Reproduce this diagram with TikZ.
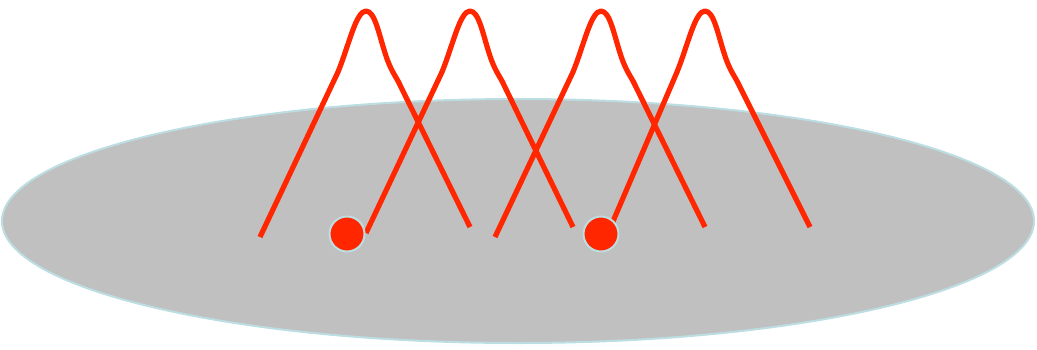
\documentclass[tikz,border=0pt]{standalone}
\usepackage{tikz}

\definecolor{wirered}{RGB}{255,38,0}
\definecolor{discgray}{RGB}{192,192,192}
\definecolor{rimblue}{RGB}{188,222,226}

\tikzset{
  wire/.style={wirered, line width=5.2pt, line cap=butt, line join=round},
  disc/.style={fill=discgray, draw=rimblue, line width=2pt},
  bead/.style={fill=wirered, draw=rimblue, line width=2pt}
}

% one arch: peak x, left end x, left end y, right end x
\newcommand{\archwire}[4]{%
  \draw[wire] (#2,#3) -- (#1-28,72)
    .. controls (#1-17,45) and (#1-10,11) .. (#1,11)
    .. controls (#1+9,11) and (#1+13,35) .. (#1+20,56)
    .. controls (#1+24,68) and (#1+28,74) .. (#1+32,81)
    -- (#4,227);%
}

\begin{document}
\begin{tikzpicture}[x=1pt,y=-1pt]
  \useasboundingbox (0,0) rectangle (1037,349);
  % the disc
  \filldraw[disc] (518,221) ellipse (516pt and 122pt);
  % the wires
  \archwire{366}{260}{237}{470}
  \archwire{470}{366}{233}{573}
  \archwire{601}{495}{237}{705}
  \archwire{705}{608}{233}{810}
  % the beads
  \filldraw[bead] (347,234) circle (17.5pt);
  \filldraw[bead] (601,234) circle (17.5pt);
\end{tikzpicture}
\end{document}
